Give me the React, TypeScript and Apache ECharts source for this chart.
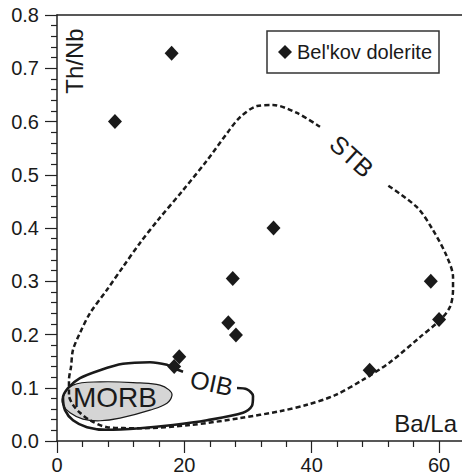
import React, { useEffect, useRef } from 'react';
import * as echarts from 'echarts';

const FONT = '"Liberation Sans", Arial, Helvetica, sans-serif';
const INK = '#1a1a1a';

// Bel'kov dolerite samples (Ba/La, Th/Nb)
const belkovX = [9.1, 18.0, 34.0, 27.6, 58.7, 26.9, 28.1, 60.0, 19.2, 18.4, 49.1];
const belkovY = [0.600, 0.728, 0.400, 0.305, 0.300, 0.222, 0.199, 0.228, 0.158, 0.140, 0.133];

// STB field outline (dashed), open at the label
const stbX = [41.3, 37.69, 33.92, 31.41, 28.74, 26.7, 23.56, 19.79, 15.86, 13.04, 10.36, 7.85, 5.18, 3.61, 2.51, 2.2, 1.88, 1.88, 2.51, 3.61, 5.18, 7.85, 13.04, 20.89, 28.74, 35.02, 39.26, 43.66, 48.05, 52.29, 57.0, 60.14, 61.72, 62.19, 62.19, 61.24, 59.05, 56.53, 51.82];
const stbY = [0.590, 0.616, 0.631, 0.629, 0.608, 0.578, 0.527, 0.471, 0.415, 0.372, 0.327, 0.284, 0.240, 0.203, 0.171, 0.139, 0.115, 0.086, 0.068, 0.053, 0.039, 0.026, 0.024, 0.030, 0.043, 0.056, 0.068, 0.086, 0.115, 0.148, 0.195, 0.227, 0.252, 0.284, 0.308, 0.346, 0.396, 0.439, 0.481];

// OIB field outline (solid), open at the label
const oibX = [28.27, 29.84, 30.78, 30.62, 29.21, 23.56, 18.22, 13.04, 7.85, 4.71, 2.51, 1.26, 0.94, 1.73, 3.61, 6.75, 10.36, 14.6, 17.27, 18.22, 19.79];
const oibY = [0.0995, 0.097, 0.0845, 0.066, 0.053, 0.039, 0.030, 0.024, 0.021, 0.026, 0.039, 0.058, 0.081, 0.0995, 0.118, 0.133, 0.145, 0.148, 0.143, 0.137, 0.130];

// MORB field (filled, closed)
const morbX = [0.94, 2.51, 6.75, 13.04, 16.17, 17.59, 18.06, 17.27, 14.6, 9.89, 6.75, 4.08, 2.04, 0.94];
const morbY = [0.083, 0.105, 0.111, 0.109, 0.105, 0.096, 0.086, 0.071, 0.058, 0.043, 0.038, 0.041, 0.053, 0.068];

// Field labels: name, anchor (data coords), rotation (deg)
const fieldNames = ['STB', 'OIB', 'MORB'];
const fieldLabelX = [46.3, 24.3, 9.1];
const fieldLabelY = [0.535, 0.109, 0.081];
const fieldLabelRot = [-42, -12, 0];
const fieldLabelSize = [25, 25, 28];

const xTickStep = 20;
const xLastLabel = 60;
const yTickStep = 0.1;

const zip = (xs: number[], ys: number[]) => xs.map((x, i) => [x, ys[i]]);

export default function App() {
  const ref = useRef<HTMLDivElement>(null);
  useEffect(() => {
    document.body.style.margin = '0';
    const chart = echarts.init(ref.current!, null, { renderer: 'svg' });
    const pxPerX = 6.368;
    const option: any = {
      animation: false,
      grid: { left: 57, top: 15, width: 80 * pxPerX, height: 426, outerBoundsMode: 'none', containLabel: false },
      legend: {
        left: 267,
        top: 31,
        padding: [11, 7, 11, 11],
        borderColor: '#333',
        borderWidth: 1.5,
        itemWidth: 14,
        itemHeight: 14,
        textStyle: { fontSize: 20, fontFamily: FONT, color: INK },
        data: [{ name: "Bel'kov dolerite", icon: 'diamond' }],
      },
      xAxis: [
        {
          type: 'value',
          min: 0,
          max: 80,
          interval: xTickStep,
          position: 'bottom',
          splitLine: { show: false },
          axisLine: { show: true, lineStyle: { color: '#222', width: 1.5 } },
          axisTick: { show: true, length: 12, lineStyle: { color: '#222', width: 1.2 } },
          minorTick: { show: true, splitNumber: 5, length: 6, lineStyle: { color: '#222', width: 1.2 } },
          axisLabel: {
            fontSize: 20,
            fontFamily: FONT,
            color: INK,
            margin: 14,
            showMaxLabel: false,
            formatter: (v: number) => (v <= xLastLabel ? String(v) : ''),
          },
        },
        {
          type: 'value',
          min: 0,
          max: 80,
          position: 'top',
          splitLine: { show: false },
          axisLine: { show: true, lineStyle: { color: '#222', width: 1.5 } },
          axisTick: { show: false },
          axisLabel: { show: false },
        },
      ],
      yAxis: {
        type: 'value',
        min: 0,
        max: 0.8,
        interval: yTickStep,
        splitLine: { show: false },
        axisLine: { show: true, lineStyle: { color: '#222', width: 1.5 } },
        axisTick: { show: true, length: 12, lineStyle: { color: '#222', width: 1.2 } },
        minorTick: { show: true, splitNumber: 5, length: 6, lineStyle: { color: '#222', width: 1.2 } },
        axisLabel: {
          fontSize: 20,
          fontFamily: FONT,
          color: INK,
          margin: 18,
          formatter: (v: number) => v.toFixed(1),
        },
      },
      graphic: [
        {
          type: 'text',
          x: 74,
          y: 61,
          rotation: Math.PI / 2,
          style: {
            text: 'Th/Nb',
            fontSize: 24,
            fontFamily: FONT,
            fill: INK,
            align: 'center',
            verticalAlign: 'middle',
          },
        },
        {
          type: 'text',
          x: 457,
          y: 423,
          style: {
            text: 'Ba/La',
            fontSize: 24,
            fontFamily: FONT,
            fill: INK,
            align: 'right',
            verticalAlign: 'middle',
          },
        },
      ],
      series: [
        {
          type: 'custom',
          name: 'MORB field',
          silent: true,
          data: [[0, 0]],
          z: 1,
          renderItem: (params: any, api: any) => {
            const pts = morbX.map((x, i) => api.coord([x, morbY[i]]));
            return {
              type: 'polygon',
              shape: { points: pts, smooth: 0.4 },
              style: { fill: '#d5d5d5', stroke: INK, lineWidth: 1.2 },
            };
          },
        },
        {
          type: 'line',
          name: 'STB field',
          data: zip(stbX, stbY),
          smooth: 0.3,
          symbol: 'none',
          silent: true,
          z: 2,
          lineStyle: { color: INK, width: 2.5, type: [5, 3] },
        },
        {
          type: 'line',
          name: 'OIB field',
          data: zip(oibX, oibY),
          smooth: 0.3,
          symbol: 'none',
          silent: true,
          z: 3,
          lineStyle: { color: INK, width: 2.6 },
        },
        {
          type: 'scatter',
          name: 'field labels',
          silent: true,
          symbolSize: 0.1,
          itemStyle: { color: 'transparent', opacity: 1 },
          z: 4,
          data: fieldNames.map((n, i) => ({
            value: [fieldLabelX[i], fieldLabelY[i]],
            label: {
              show: true,
              position: 'inside',
              formatter: n,
              rotate: fieldLabelRot[i],
              fontSize: fieldLabelSize[i],
              fontFamily: FONT,
              color: INK,
              textBorderWidth: 0,
              opacity: 1,
            },
          })),
        },
        {
          type: 'scatter',
          name: "Bel'kov dolerite",
          symbol: 'diamond',
          symbolSize: [14, 15],
          itemStyle: { color: INK, opacity: 1 },
          z: 10,
          data: zip(belkovX, belkovY),
        },
      ],
    };
    chart.setOption(option);
    return () => chart.dispose();
  }, []);
  return <div ref={ref} style={{ width: 462, height: 476 }} />;
}
